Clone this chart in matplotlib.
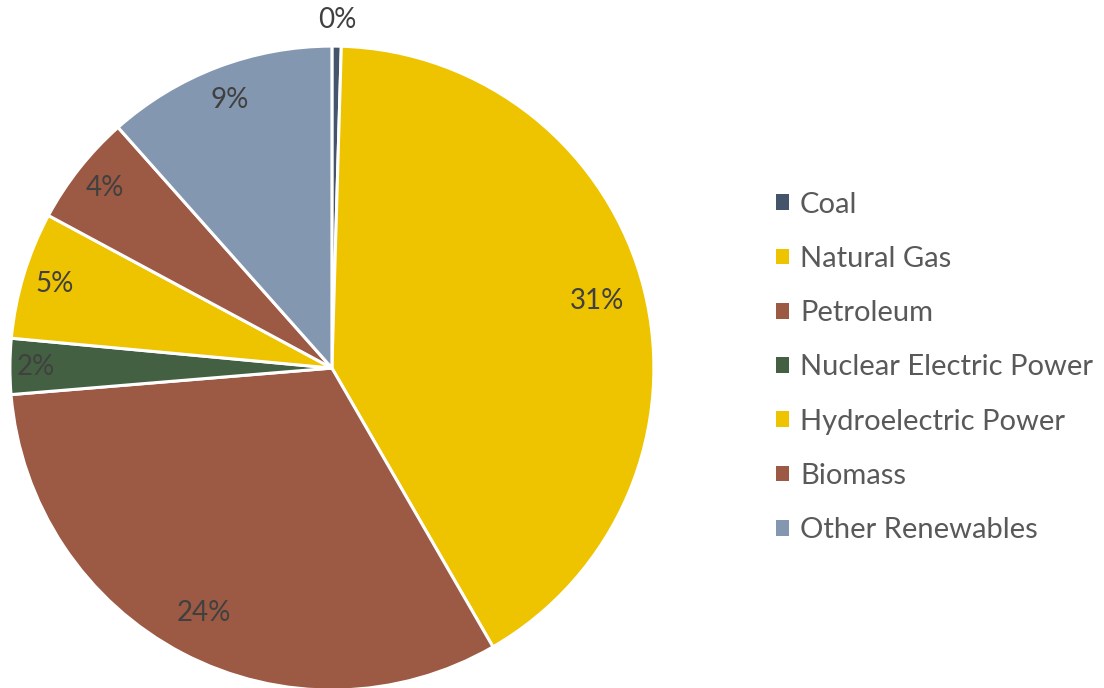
import numpy as np
import matplotlib
matplotlib.use("Agg")
import matplotlib.pyplot as plt
from matplotlib.patches import Patch

# values (percent labels)
sources = ['Coal', 'Natural Gas', 'Petroleum', 'Nuclear Electric Power',
           'Hydroelectric Power', 'Biomass', 'Other Renewables']
shares = [0.35, 31.0, 24.1, 2.1, 4.8, 4.2, 8.7]
colors = ['#44546A', '#EEC300', '#9C5943', '#436142', '#EEC300', '#9C5943', '#8497B0']
label_dist = [1.08, 0.85, 0.86, 0.92, 0.90, 0.90, 0.89]

plt.rcParams['font.family'] = ['Lato', 'DejaVu Sans']

fig = plt.figure(figsize=(11.04, 6.88), dpi=100)
ax = fig.add_axes([0.009, -0.003, 0.5833, 0.936])

wedges, _ = ax.pie(shares, colors=colors, startangle=90, counterclock=False,
                   wedgeprops=dict(edgecolor='white', linewidth=2.2))
ax.set_xlim(-1, 1)
ax.set_ylim(-1, 1)
ax.set_aspect('equal')

# percentage labels placed along each wedge's mid angle
for w, v, d in zip(wedges, shares, label_dist):
    mid = np.deg2rad((w.theta1 + w.theta2) / 2)
    ax.text(d * np.cos(mid), d * np.sin(mid), f'{v:.0f}%', ha='center', va='center',
            fontsize=20, color='#404040', clip_on=False)

handles = [Patch(facecolor=c, edgecolor='none') for c in colors]
fig.legend(handles, sources, loc='center left', bbox_to_anchor=(0.679, 0.466),
           frameon=False, fontsize=21, labelcolor='#595959',
           handlelength=0.45, handleheight=0.45, handletextpad=0.38, labelspacing=0.97)

fig.savefig('out.png', dpi=100)
